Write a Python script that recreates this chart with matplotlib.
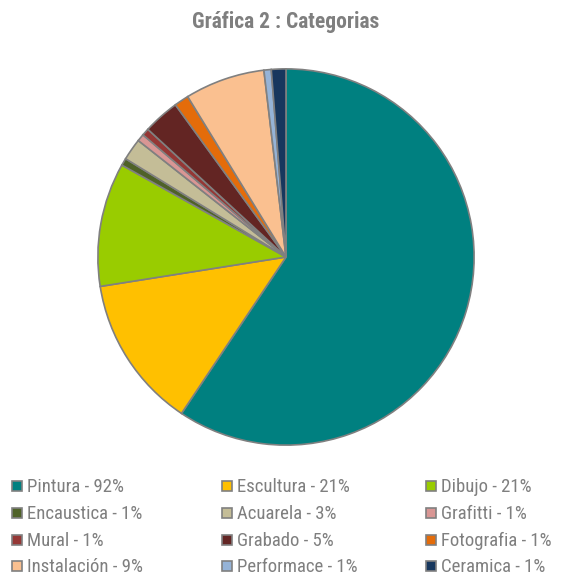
import matplotlib.pyplot as plt
from matplotlib.patches import Rectangle

# legend captions as written in the survey summary
etiquetas = ['Pintura - 92%', 'Escultura - 21%', 'Dibujo - 21%',
             'Encaustica - 1%', 'Acuarela - 3%', 'Grafitti - 1%',
             'Mural - 1%', 'Grabado - 5%', 'Fotografia - 1%',
             'Instalación - 9%', 'Performace - 1%', 'Ceramica - 1%']
# responses per category (slice sizes)
respuestas = [95, 21, 17, 1, 3, 1, 1, 5, 2, 11, 1, 2]
colores = ['#008080', '#FFC000', '#99CC00', '#4F6228', '#C4BD97', '#D99694',
           '#953735', '#632523', '#E46C0A', '#FAC090', '#95B3D7', '#17375E']

plt.rcParams['font.family'] = ['Roboto Condensed', 'DejaVu Sans']
gris = '#7f7f7f'

W, H = 562, 578
fig = plt.figure(figsize=(W / 100, H / 100), dpi=100)
fig.patch.set_facecolor('white')

# pie area: centre (286, 257) px, radius 190 px
cx, cy, r = 286, 257, 190
ax = fig.add_axes([(cx - r) / W, 1 - (cy + r) / H, 2 * r / W, 2 * r / H])
ax.pie(respuestas, colors=colores, startangle=90, counterclock=False,
       wedgeprops=dict(edgecolor='#808080', linewidth=1.2))
ax.set_xlim(-1.01, 1.01)
ax.set_ylim(-1.01, 1.01)
ax.set_aspect('equal')
ax.axis('off')

fig.text(286 / W, 1 - 22 / H, 'Gráfica 2 : Categorias', ha='center', va='center',
         fontsize=15.5, fontweight='bold', color=gris)

# legend: 3 columns, filled row by row
col_x = [12, 222, 426]
row_y = [486, 513, 540, 566]
sq = 10
for i, (lab, col) in enumerate(zip(etiquetas, colores)):
    x = col_x[i % 3]
    y = row_y[i // 3]
    fig.add_artist(Rectangle((x / W, 1 - (y + sq / 2) / H), sq / W, sq / H,
                             transform=fig.transFigure, facecolor=col,
                             edgecolor='#808080', linewidth=1.2))
    fig.text((x + sq + 5) / W, 1 - (y + 1) / H, lab, ha='left', va='center',
             fontsize=13.5, color=gris)

fig.savefig('out.png', dpi=100, facecolor='white')
